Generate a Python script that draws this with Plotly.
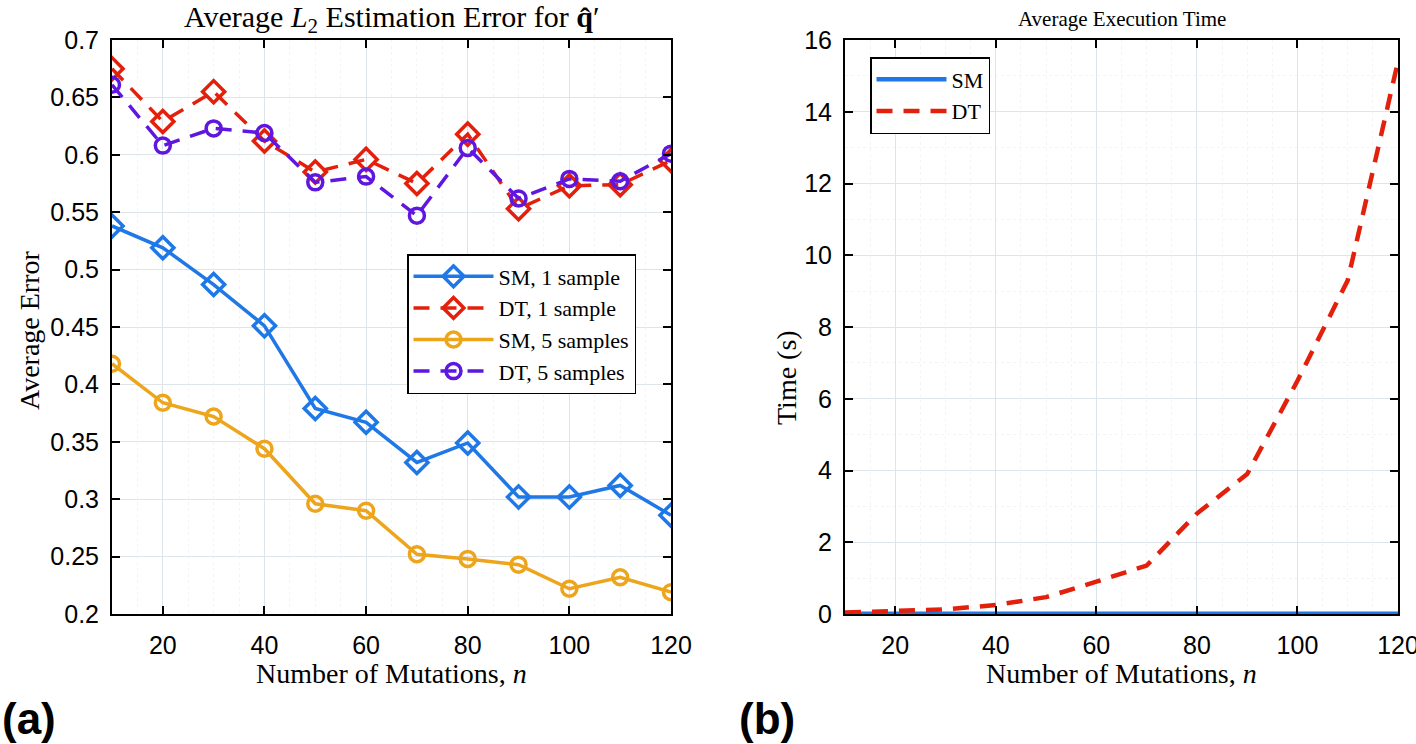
import plotly.graph_objects as go

# data
n = [10, 20, 30, 40, 50, 60, 70, 80, 90, 100, 110, 120]

sm_1 = [0.538, 0.519, 0.487, 0.451, 0.379, 0.367, 0.332, 0.349, 0.302, 0.302, 0.312, 0.286]
dt_1 = [0.675, 0.629, 0.655, 0.612, 0.585, 0.596, 0.575, 0.618, 0.553, 0.573, 0.574, 0.595]
sm_5 = [0.418, 0.384, 0.372, 0.344, 0.296, 0.290, 0.252, 0.248, 0.243, 0.222, 0.232, 0.219]
dt_5 = [0.661, 0.608, 0.623, 0.619, 0.576, 0.581, 0.547, 0.606, 0.562, 0.579, 0.577, 0.601]

time_sm = [0.01, 0.01, 0.01, 0.01, 0.01, 0.01, 0.01, 0.01, 0.01, 0.01, 0.01, 0.01]
time_dt = [0.04, 0.07, 0.13, 0.25, 0.47, 0.9, 1.35, 2.8, 3.9, 6.5, 9.3, 15.4]

x_ticks = [20, 40, 60, 80, 100, 120]
err_ticks = [0.2, 0.25, 0.3, 0.35, 0.4, 0.45, 0.5, 0.55, 0.6, 0.65, 0.7]
err_labels = ['0.2', '0.25', '0.3', '0.35', '0.4', '0.45', '0.5', '0.55', '0.6', '0.65', '0.7']
time_ticks = [0, 2, 4, 6, 8, 10, 12, 14, 16]

BLUE = '#1f78e6'
RED = '#e3200b'
ORANGE = '#eda51c'
PURPLE = '#5f17e0'

SERIF = 'Liberation Serif'
SANS = 'Liberation Sans'
DASH = '16px,11px'

W, H = 1416, 744
# plot areas in pixels (left, right, top, bottom)
LEFT_BOX = (112, 671, 40, 614)
RIGHT_BOX = (845, 1398, 40, 614)


def px_x(p):
    return p / W


def px_y(p):
    return 1 - p / H


fig = go.Figure()

# left panel: estimation error
fig.add_trace(go.Scatter(x=n, y=sm_1, name='SM, 1 sample', mode='lines+markers',
                         line=dict(color=BLUE, width=3.5),
                         marker=dict(symbol='diamond-open', size=17, color=BLUE, line=dict(width=3.5)),
                         xaxis='x', yaxis='y', legend='legend'))
fig.add_trace(go.Scatter(x=n, y=dt_1, name='DT, 1 sample', mode='lines+markers',
                         line=dict(color=RED, width=3.5, dash=DASH),
                         marker=dict(symbol='diamond-open', size=17, color=RED, line=dict(width=3.5)),
                         xaxis='x', yaxis='y', legend='legend'))
fig.add_trace(go.Scatter(x=n, y=sm_5, name='SM, 5 samples', mode='lines+markers',
                         line=dict(color=ORANGE, width=3.5),
                         marker=dict(symbol='circle-open', size=15, color=ORANGE, line=dict(width=3.5)),
                         xaxis='x', yaxis='y', legend='legend'))
fig.add_trace(go.Scatter(x=n, y=dt_5, name='DT, 5 samples', mode='lines+markers',
                         line=dict(color=PURPLE, width=3.5, dash=DASH),
                         marker=dict(symbol='circle-open', size=15, color=PURPLE, line=dict(width=3.5)),
                         xaxis='x', yaxis='y', legend='legend'))

# right panel: execution time
fig.add_trace(go.Scatter(x=n, y=time_sm, name='SM', mode='lines',
                         line=dict(color=BLUE, width=4.5),
                         xaxis='x2', yaxis='y2', legend='legend2'))
fig.add_trace(go.Scatter(x=n, y=time_dt, name='DT', mode='lines',
                         line=dict(color=RED, width=4.5, dash=DASH),
                         xaxis='x2', yaxis='y2', legend='legend2'))

axis_style = dict(
    automargin=False,
    showline=True, linecolor='black', linewidth=2, mirror='ticks',
    ticks='inside', ticklen=8, tickwidth=1.5, tickcolor='black',
    showgrid=True, gridcolor='#dde5ea', gridwidth=1,
    minor=dict(showgrid=True, gridcolor='#f4f4f4', griddash='dot', ticks=''),
    zeroline=False, ticklabeloverflow='allow',
    tickfont=dict(family=SANS, size=25, color='black'),
)

fig.update_layout(
    width=W, height=H,
    margin=dict(l=0, r=0, t=0, b=0),
    paper_bgcolor='white', plot_bgcolor='white',
    xaxis=dict(domain=[px_x(LEFT_BOX[0]), px_x(LEFT_BOX[1])], range=[10, 120], tickvals=x_ticks,
               ticklabelstandoff=8, anchor='y', **axis_style),
    yaxis=dict(domain=[px_y(LEFT_BOX[3]), px_y(LEFT_BOX[2])], range=[0.2, 0.7],
               tickvals=err_ticks, ticktext=err_labels,
               ticklabelstandoff=6, anchor='x', **axis_style),
    xaxis2=dict(domain=[px_x(RIGHT_BOX[0]), px_x(RIGHT_BOX[1])], range=[10, 120], tickvals=x_ticks,
                ticklabelstandoff=8, anchor='y2', **axis_style),
    yaxis2=dict(domain=[px_y(RIGHT_BOX[3]), px_y(RIGHT_BOX[2])], range=[0, 16], tickvals=time_ticks,
                ticklabelstandoff=6, anchor='x2', **axis_style),
    legend=dict(x=px_x(407), y=px_y(254), xanchor='left', yanchor='top',
                bgcolor='white', bordercolor='black', borderwidth=1.5,
                font=dict(family=SERIF, size=22, color='black'),
                tracegroupgap=0, itemwidth=80),
    legend2=dict(x=px_x(870), y=px_y(57), xanchor='left', yanchor='top',
                 bgcolor='white', bordercolor='black', borderwidth=1.5,
                 font=dict(family=SERIF, size=22, color='black'),
                 itemwidth=70),
    showlegend=True,
)


def label(text, x, y, size, angle=0, family=SERIF):
    return dict(text=text, x=px_x(x), y=px_y(y), xref='paper', yref='paper',
                xanchor='center', yanchor='middle', showarrow=False, textangle=angle,
                font=dict(family=family, size=size, color='black'))


annotations = [
    label('Average <i>L</i><sub>2</sub> Estimation Error for <b>q̂</b>′',
          (LEFT_BOX[0] + LEFT_BOX[1]) / 2, 19, 30),
    label('Average Execution Time', (RIGHT_BOX[0] + RIGHT_BOX[1]) / 2, 19, 21),
    label('Number of Mutations, <i>n</i>', (LEFT_BOX[0] + LEFT_BOX[1]) / 2, 673, 28),
    label('Number of Mutations, <i>n</i>', (RIGHT_BOX[0] + RIGHT_BOX[1]) / 2, 673, 28),
    label('Average Error', 29, 330, 28, angle=-90),
    label('Time (s)', 786, 378, 28, angle=-90),
    dict(text='<b>(a)</b>', x=0, y=px_y(718), xref='paper', yref='paper',
         xanchor='left', yanchor='middle', showarrow=False,
         font=dict(family=SANS, size=44, color='black')),
    dict(text='<b>(b)</b>', x=px_x(737), y=px_y(718), xref='paper', yref='paper',
         xanchor='left', yanchor='middle', showarrow=False,
         font=dict(family=SANS, size=44, color='black')),
]
fig.update_layout(annotations=annotations)

# the page has a default body margin, drop it so the figure fills the window
fig.write_html('out.html', config={'displayModeBar': False},
               post_script="document.body.style.margin='0';document.body.style.overflow='hidden';")
